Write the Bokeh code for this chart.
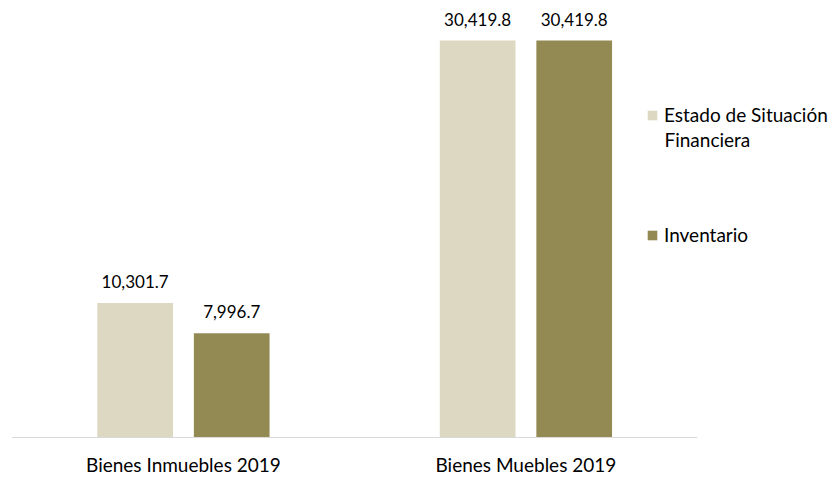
from bokeh.plotting import figure
from bokeh.models import (ColumnDataSource, LabelSet, Legend, LegendItem, Range1d, Label)
from bokeh.transform import dodge
from bokeh.core.properties import value
from bokeh.embed import file_html
from bokeh.resources import INLINE

categories = ["Bienes Inmuebles 2019", "Bienes Muebles 2019"]
series_names = ["Estado de Situación", "Financiera", "Inventario"]
estado = [10301.7, 30419.8]
inventario = [7996.7, 30419.8]

colors = ["#DDD8C2", "#938A53"]
FONT = "Lato"

idx = list(range(len(categories)))
src = ColumnDataSource(dict(
    x=idx,
    cat=categories,
    zero=[0] * len(categories),
    estado=estado,
    inventario=inventario,
    estado_lbl=["{:,.1f}".format(v) for v in estado],
    inventario_lbl=["{:,.1f}".format(v) for v in inventario],
))

p = figure(width=834, height=477, x_range=Range1d(-0.502, 1.901),
           y_range=Range1d(-3065, 33485), output_backend="svg", toolbar_location=None,
           min_border_left=11, min_border_right=0, min_border_top=0, min_border_bottom=0)

off = 0.141
w = 0.221
r1 = p.vbar(x=dodge("x", -off), top="estado", width=w, source=src,
            fill_color=colors[0], line_color=None)
r2 = p.vbar(x=dodge("x", off), top="inventario", width=w, source=src,
            fill_color=colors[1], line_color=None)

# category axis baseline
p.segment(x0=[idx[0] - 0.5], x1=[idx[-1] + 0.5], y0=[0], y1=[0],
          line_color="#D9D9D9", line_width=1)

# value labels
for col, o in (("estado", -off), ("inventario", off)):
    p.add_layout(LabelSet(x=dodge("x", o), y=col, text=col + "_lbl", source=src,
                          text_align="center", text_baseline="bottom", y_offset=15,
                          text_font=value(FONT), text_font_size="17px", text_color="#000000"))

# category labels
p.add_layout(LabelSet(x="x", y="zero", text="cat", source=src,
                      text_align="center", text_baseline="top", y_offset=-16,
                      text_font=value(FONT), text_font_size="19px", text_color="#000000"))

legend = Legend(items=[LegendItem(label=series_names[0], renderers=[r1]),
                       LegendItem(label=series_names[2], renderers=[r2])],
                location=(635, 231), orientation="vertical",
                glyph_width=12, glyph_height=12, label_standoff=6, spacing=97,
                padding=0, margin=0, border_line_color=None, background_fill_alpha=0,
                label_text_font=FONT, label_text_font_size="19px", label_text_color="#000000")
p.add_layout(legend, "center")

p.add_layout(Label(x=653, y=338, x_units="screen", y_units="screen", text=series_names[1],
                   text_font=FONT, text_font_size="19px", text_color="#000000",
                   text_baseline="middle", text_align="left"))

p.xaxis.visible = False
p.yaxis.visible = False
p.xgrid.visible = False
p.ygrid.visible = False
p.outline_line_color = None

open("out.html", "w").write(file_html(p, INLINE))
